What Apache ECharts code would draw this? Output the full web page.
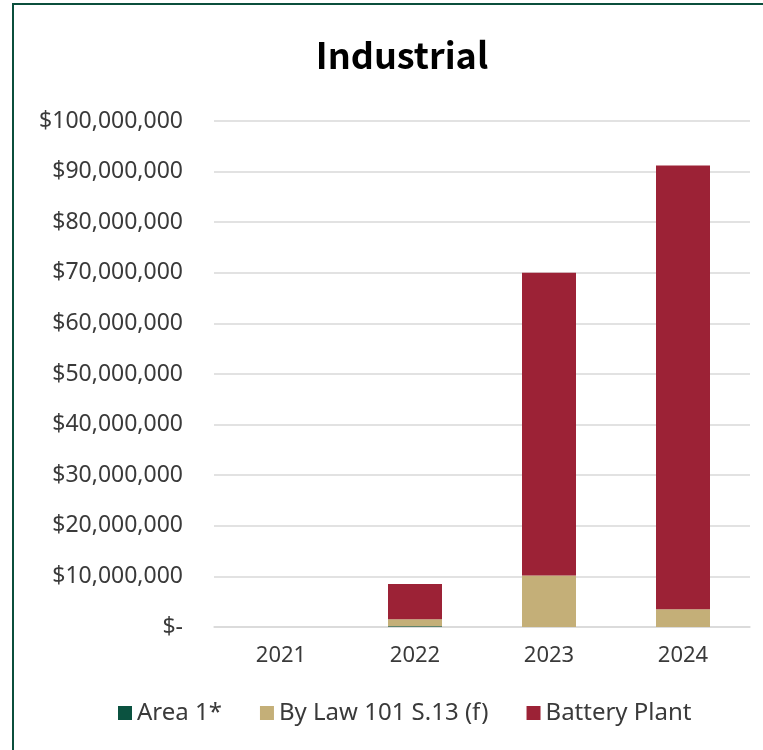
<!DOCTYPE html>
<html>
<head>
<meta charset="utf-8">
<script src="https://cdn.jsdelivr.net/npm/echarts@6/dist/echarts.min.js"></script>
<style>
  html, body { margin: 0; padding: 0; background: #fff; }
  #chart { width: 763px; height: 750px; }
</style>
</head>
<body>
<div id="chart"></div>
<script>
// Industrial values by year, in dollars
const years = ['2021', '2022', '2023', '2024'];
const area1 = [0, 150000, 0, 0];
const byLaw = [0, 1380000, 10200000, 3490000];
const batteryPlant = [0, 6980000, 59800000, 87710000];

const titleFont = '"Noto Sans CJK JP", "Noto Sans", sans-serif';
const textFont = '"Noto Sans", sans-serif';

function money(v) {
  if (v === 0) return '$-';
  return '$' + v.toLocaleString('en-US');
}

const chart = echarts.init(document.getElementById('chart'));
chart.setOption({
  animation: false,
  backgroundColor: '#ffffff',
  title: {
    text: 'Industrial',
    left: 397,
    textAlign: 'center',
    top: 32,
    textStyle: { fontFamily: titleFont, fontSize: 36, fontWeight: 'bold', color: '#000' }
  },
  graphic: [{
    type: 'rect',
    shape: { x: 13, y: 4, width: 800, height: 800 },
    style: { fill: 'none', stroke: '#0b4f3c', lineWidth: 2 },
    silent: true
  }],
  legend: {
    bottom: 20,
    left: 113,
    itemWidth: 14,
    itemHeight: 14,
    itemGap: 38,
    icon: 'rect',
    textStyle: { fontFamily: textFont, fontSize: 24, color: '#3a3a3a' },
    data: ['Area 1*', 'By Law 101 S.13 (f)', 'Battery Plant']
  },
  grid: { left: 214, right: 13, top: 121, bottom: 123 },
  xAxis: {
    type: 'category',
    data: years,
    axisLine: { show: true, lineStyle: { color: '#d9d9d9', width: 1.5 } },
    axisTick: { show: false },
    axisLabel: { fontFamily: textFont, fontSize: 22, color: '#3a3a3a', margin: 18 }
  },
  yAxis: {
    type: 'value',
    min: 0,
    max: 100000000,
    interval: 10000000,
    axisLine: { show: false },
    axisTick: { show: false },
    splitLine: { lineStyle: { color: '#d9d9d9', width: 1.5 } },
    axisLabel: {
      fontFamily: textFont, fontSize: 23, color: '#3a3a3a', margin: 31,
      padding: [0, 0, 6, 0],
      formatter: money
    }
  },
  series: [
    { name: 'Area 1*', type: 'bar', stack: 'total', data: area1, barWidth: 54,
      itemStyle: { color: '#0b5240' } },
    { name: 'By Law 101 S.13 (f)', type: 'bar', stack: 'total', data: byLaw, barWidth: 54,
      itemStyle: { color: '#c4af78' } },
    { name: 'Battery Plant', type: 'bar', stack: 'total', data: batteryPlant, barWidth: 54,
      itemStyle: { color: '#9c2236' } }
  ]
});
</script>
</body>
</html>
